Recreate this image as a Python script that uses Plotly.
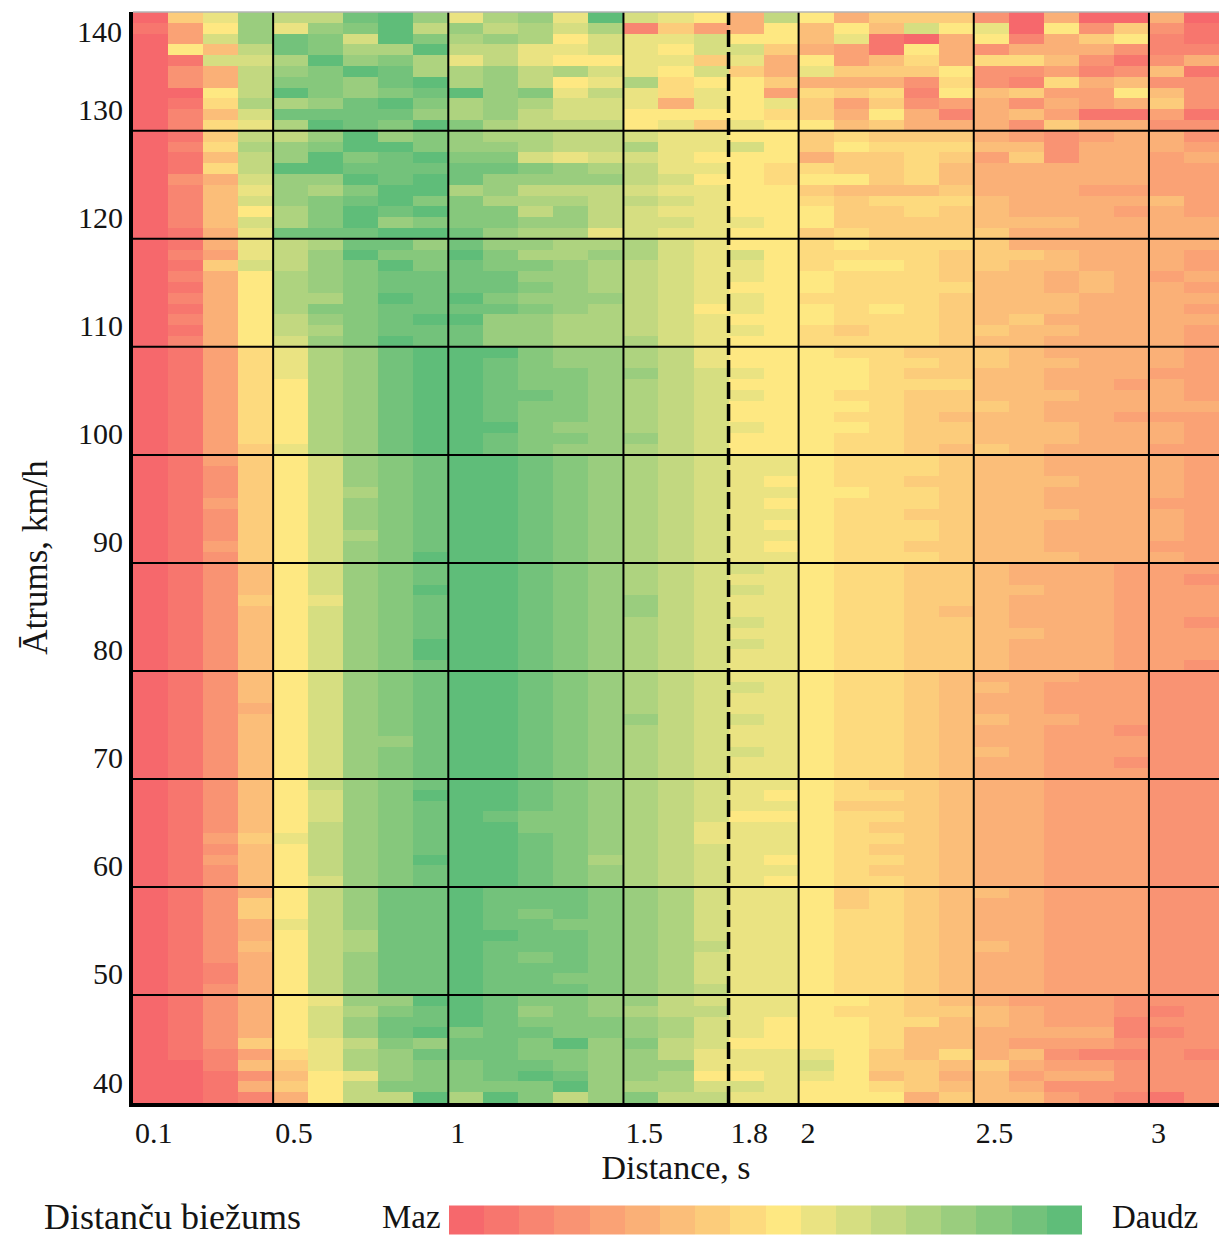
import plotly.graph_objects as go

# ---------------- data ----------------
# bin edges: distance (s) columns 0.1 … 3.2 and speed (km/h) rows 40 … 141
distance_edges = [round(0.1 + 0.1 * i, 1) for i in range(32)]
speed_edges = list(range(40, 142))

x_tick_vals = [0.1, 0.5, 1, 1.5, 1.8, 2, 2.5, 3]
x_tick_text = ["0.1", "0.5", "1", "1.5", "1.8", "2", "2.5", "3"]
y_tick_vals = [40, 50, 60, 70, 80, 90, 100, 110, 120, 130]
y_top_label = 140
grid_x = [0.5, 1, 1.5, 2, 2.5, 3]
grid_y = [50, 60, 70, 80, 90, 100, 110, 120, 130]
threshold_distance = 1.8

# frequency level per cell, 0 (Maz) … 17 (Daudz), digits 0-9 then a-h.
# One string per speed row (top row first), one character per 0.1 s column.
rows_130s = [  # 140 … 130
    "07aec cghea deahb a95c9 57773 05005 0",
    "149ea efhce cdbd2 74596 96b9a 09373 1",
    "04beg fbhfd ed9ba ab996 a1059 25792 1",
    "096cg fddhc caaba 9bb75 41953 55532 2",
    "01bbd hefda ca99a a7a59 46858 86313 5",
    "035ce fhgdd ecdba 9b75a 77793 34236 1",
    "035cf feghd ec9ad 89975 55383 28563 3",
    "009ch fefgh efaca 8a948 78296 74496 3",
    "018dd eghfd edbba 5a9a7 47345 35457 3",
    "026bg ggged ecbb9 99987 59525 64114 1",
    "028ad hgfhf dccc9 a7a99 67555 37553 3",
]
rows_120s = [  # 129 … 120
    "017cc ehefe ddccb aa997 87775 43455 3",
    "028de fhhfe edccd aab97 98886 63555 4",
    "016ce hfghf fbabb a9995 77874 73554 5",
    "018ch hgggg gfedc aa988 77865 55554 4",
    "035be ehghg eeeec b9989 97865 55554 4",
    "026ae dfhhd ecccb aa997 66675 55444 4",
    "026be fghff dddcc ba998 78886 55556 4",
    "0269d fhghf fcecb aa999 77876 55545 4",
    "026bd fheff feecb baa99 77776 66555 5",
    "015ag gghhg eddab aa997 87777 55555 5",
]
rows_110s = [  # 119 … 110
    "015ac dggeg eeddd ba998 98887 55555 5",
    "024ac ehffh fdded bab98 88877 76555 4",
    "017bc efhfg ffedc baa98 99877 66555 4",
    "0259d efggg geedc baa99 88876 65654 5",
    "0159d efggg gfedc ba999 88886 65655 4",
    "0259d dfhgh feeec baa98 88876 66555 5",
    "0159d ffggg gfedc b9a99 89876 66555 4",
    "0259c efghh eeddc ba999 88876 75555 5",
    "0159c dfggg eeddc baa98 78877 66555 4",
    "0259b efhgg eeddd ba998 88876 65555 4",
]
rows_100s = [  # 109 … 100
    "0148a deghh hfeed ca999 88777 65555 4",
    "0148a deghh gfeed ca999 98877 66555 4",
    "0148a deghh gffee cba99 98776 65554 4",
    "01489 deghh gffed cb999 98886 65545 4",
    "01489 deghh ggfed cba99 88776 66555 4",
    "01489 deghh gffed cb999 98777 65555 5",
    "01489 deghh gffed cb999 88766 65544 4",
    "01489 deghh hfeed cba99 98776 66555 4",
    "01489 deghh gffee cb999 88776 66555 4",
    "0147a deghh gfeed cb999 88767 65554 4",
]
rows_90s = [  # 99 … 90
    "01479 befgh hgfed cbaa9 88876 65555 4",
    "01379 befgh hgfed cbaa9 88876 65555 4",
    "01379 befgh hgfed cba99 88776 66555 4",
    "01379 bdfgh hgfed cbaa9 98876 65555 4",
    "01479 befgh hgfed cba99 88876 65554 4",
    "01379 befgh hgfed cbaa9 88776 66555 4",
    "01379 befgh hgfed cba99 88876 65555 4",
    "01379 bdfgh hgfed cbaa9 88876 65555 4",
    "01479 befgh hgfed cba99 88776 65554 4",
    "01379 befhh hgfed cbaa9 88876 66555 4",
]
rows_80s = [  # 89 … 80
    "01369 befgh hgfed cbba9 88776 55544 4",
    "01369 befgh hgfed cbaa9 88776 55544 3",
    "01369 befhh hgfed cbba9 88776 65544 4",
    "01379 aefgh hgfee cbaa9 88776 55544 4",
    "01369 befgh hgfee cbaa9 88766 55544 4",
    "01369 befgh hgfed cbba9 88776 55544 3",
    "01369 befgh hgfed cbaa9 88776 65544 4",
    "01369 befhh hgfed cbba9 88776 55544 4",
    "01369 befhh hgfed cbaa9 88776 55544 4",
    "01369 befgh hgfed cbaa9 88776 55544 3",
]
rows_70s = [  # 79 … 70
    "01369 befgh hgfed cbaa9 88765 55443 3",
    "01369 befgh hgfed cbba9 88766 54443 3",
    "01369 befgh hgfed cbaa9 88765 54443 3",
    "01359 befgh hgfed cbaa9 88765 54443 3",
    "01369 befgh hgfee cbba9 88766 55443 3",
    "01369 befgh hgfed cbaa9 88765 54433 3",
    "01369 beegh hgfed cbaa9 88765 54443 3",
    "01369 befgh hgfed cbba9 88766 54443 3",
    "01369 befgh hgfed cbaa9 88765 54433 3",
    "01369 befgh hgfed cbaa9 88765 54443 3",
]
rows_60s = [  # 69 … 60
    "01369 cefgh hgfed cbaa9 87765 54443 3",
    "01369 befhh hgfed cba99 88765 54443 3",
    "01369 befgh hgfed cbaa9 77765 54443 3",
    "01369 befgh gffed cb999 88765 54443 3",
    "01369 cefgh hffed caaa9 87765 54443 3",
    "0147a cefgh hgfed caaa9 88765 54443 3",
    "01369 cefgh hgfed cbaa9 87765 54443 3",
    "01469 cefhh hgfdd cba99 88765 54443 3",
    "01369 cefgh hgfed cbaa9 87765 54443 3",
    "01369 befgh hgfed cba99 88765 54443 3",
]
rows_50s = [  # 59 … 50
    "01359 ceggh gggfe dbaa9 78766 54443 3",
    "01379 ceggh gggfe dbaa9 78765 54443 3",
    "01379 ceggh gfgfe dbaa9 88765 54443 3",
    "0135a ceggh ggffe dbaa9 88765 54443 3",
    "01359 cdggh hggfe dbaa9 88765 54443 3",
    "01369 cdggh gggfe dcaa9 88766 54443 3",
    "01359 ceggh gfgfe dbaa9 88765 54443 3",
    "01259 ceggh gggfe dbaa9 88765 54443 3",
    "01259 ceggh ggffe dbaa9 88765 54443 3",
    "01359 ceggh gggfe dcaa9 88765 54443 3",
]
rows_40s = [  # 49 … 40
    "01359 aeehh gffee cbaa9 98765 44433 3",
    "01359 bdfgh gefed ccaa9 88776 54432 3",
    "01359 beggh gfffe dba99 98866 54423 3",
    "01359 beghf ggffe dba99 98665 55522 3",
    "01379 acfeg gfhef cb999 98665 44433 3",
    "01248 adegg gffee caaaa 97685 63223 2",
    "00267 adeff ggfee eaaab 97767 54433 3",
    "00136 9aeff ghgee d99aa 96756 45533 3",
    "00157 9cfff ffhed dbba9 98766 53333 3",
    "00125 9cchd hfcef ccaa9 99576 64321 3",
]

# ---------------- styles ----------------
level_colors = [
    "#F6686C", "#F7766E", "#F88571", "#F99373", "#FAA275", "#FAB077",
    "#FBBE79", "#FCCC7B", "#FDDA7E", "#FEE882", "#EAE382", "#D6DE81",
    "#C2D880", "#AED37F", "#9ACD7E", "#86C87C", "#73C27B", "#5FBD79",
]
FONT = "Liberation Serif, Times New Roman, serif"
INK = "#141414"

all_rows = (rows_130s + rows_120s + rows_110s + rows_100s + rows_90s +
            rows_80s + rows_70s + rows_60s + rows_50s + rows_40s)
z = [[int(ch, 18) for ch in r.replace(" ", "")] for r in reversed(all_rows)]
for r in z:
    if len(r) != len(distance_edges) - 1:
        raise ValueError("bad row length %d" % len(r))
if len(z) != len(speed_edges) - 1:
    raise ValueError("bad row count %d" % len(z))

n = len(level_colors)
colorscale = []
for i, c in enumerate(level_colors):
    colorscale.append([i / n, c])
    colorscale.append([(i + 1) / n, c])

fig = go.Figure(
    go.Heatmap(
        x=distance_edges,
        y=speed_edges,
        z=z,
        zmin=-0.5,
        zmax=n - 0.5,
        colorscale=colorscale,
        hoverinfo="skip",
        colorbar=dict(
            orientation="h",
            x=0.5824, xanchor="center",
            y=-0.107, yanchor="middle",
            len=0.583, lenmode="fraction",
            thickness=29, thicknessmode="pixels",
            outlinewidth=0,
            showticklabels=False, ticks="",
            xpad=0, ypad=0,
        ),
    )
)

shapes = []
for gx in grid_x:
    shapes.append(dict(type="line", xref="x", yref="paper", x0=gx, x1=gx, y0=0, y1=1,
                       line=dict(color="black", width=2), layer="above"))
for gy in grid_y:
    shapes.append(dict(type="line", xref="paper", yref="y", x0=0, x1=1, y0=gy, y1=gy,
                       line=dict(color="black", width=2), layer="above"))
shapes.append(dict(type="line", xref="x", yref="paper", x0=threshold_distance,
                   x1=threshold_distance, y0=0, y1=1,
                   line=dict(color="black", width=3.5, dash="17px,5px"), layer="above"))
shapes.append(dict(type="line", xref="paper", yref="paper", x0=0, x1=1, y0=1, y1=1,
                   line=dict(color="#b4b4b4", width=1.5), layer="above"))

fig.update_layout(
    width=1219, height=1237,
    margin=dict(l=133, r=0, t=12, b=134, autoexpand=False),
    paper_bgcolor="white", plot_bgcolor="white",
    font=dict(family=FONT, color=INK, size=30),
    shapes=shapes,
    xaxis=dict(
        range=[distance_edges[0], distance_edges[-1]],
        tickvals=x_tick_vals, ticktext=x_tick_text,
        ticks="", showgrid=False, zeroline=False,
        showline=True, linecolor="black", linewidth=4,
        ticklabelposition="outside right",
        tickfont=dict(family=FONT, size=30, color=INK),
        title=dict(text="Distance, s", font=dict(family=FONT, size=34, color=INK), standoff=8),
        automargin=False,
    ),
    yaxis=dict(
        range=[speed_edges[0], speed_edges[-1]],
        tickvals=y_tick_vals,
        ticks="", showgrid=False, zeroline=False,
        showline=True, linecolor="black", linewidth=4,
        ticklabelposition="outside top",
        tickfont=dict(family=FONT, size=30, color=INK),
        title=dict(text="Ātrums, km/h", font=dict(family=FONT, size=35, color=INK), standoff=21),
        automargin=False,
    ),
    annotations=[
        dict(text=str(y_top_label), xref="paper", yref="y", x=0, y=y_top_label,
             xanchor="right", yanchor="middle", xshift=-9, yshift=-9, showarrow=False,
             font=dict(family=FONT, size=30, color=INK)),
        dict(text="Distanču biežums", xref="paper", yref="paper", x=-0.0838, y=-0.1045,
             xanchor="left", yanchor="middle", showarrow=False,
             font=dict(family=FONT, size=36, color=INK)),
        dict(text="Maz", xref="paper", yref="paper", x=0.2855, y=-0.1045,
             xanchor="right", yanchor="middle", showarrow=False,
             font=dict(family=FONT, size=33, color=INK)),
        dict(text="Daudz", xref="paper", yref="paper", x=0.8996, y=-0.1045,
             xanchor="left", yanchor="middle", showarrow=False,
             font=dict(family=FONT, size=33, color=INK)),
    ],
)

fig.write_html("out.html", config={"displayModeBar": False},
               post_script="document.body.style.margin='0';document.body.style.overflow='hidden';")
